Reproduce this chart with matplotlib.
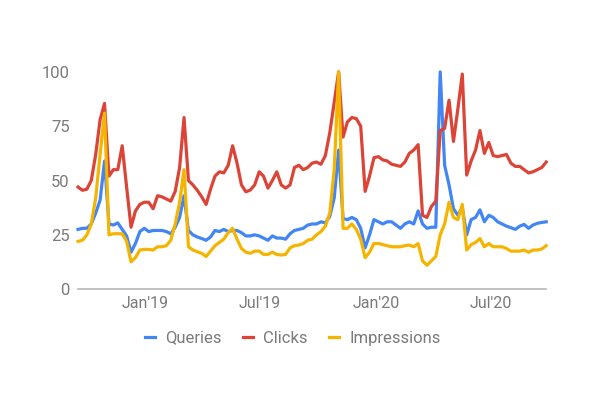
import matplotlib
matplotlib.use("Agg")
import matplotlib.pyplot as plt
import matplotlib.dates as mdates
import pandas as pd

# weekly values (indexed 0-100)
weeks = pd.date_range("2018-09-16", periods=107, freq="7D")

queries = [27.5, 28, 28, 30, 35, 41, 59, 30, 29.5, 30.5,
           27.5, 24.5, 17, 21, 26.5, 28, 26.5, 27, 27, 27,
           26.5, 25.5, 28.5, 33, 43, 27, 25, 24, 23.3, 22.5,
           24, 27, 26.5, 27.5, 26.5, 27, 27, 26, 24.5, 24.5,
           25, 24.5, 23.5, 22.5, 24.5, 23.5, 23.5, 23, 25.5, 27,
           27.5, 28, 29.5, 30, 30, 31, 30.5, 33.5, 42, 64,
           32.5, 32, 33, 32, 28, 19, 25, 32, 31, 30,
           31, 31, 29.5, 28, 30, 31, 30, 36, 30, 28,
           28.5, 28.5, 100, 57, 48, 37, 34, 37.5, 25, 32,
           33, 36.5, 31, 34, 33, 31, 30, 29, 28.3, 27.5,
           29, 29.8, 28, 29.5, 30.3, 30.7, 31]

clicks = [47, 45.5, 46, 50, 62, 78, 85.5, 52, 55, 55,
          66, 47, 28.5, 36, 39, 40, 40, 37, 43, 42.5,
          41.5, 40.5, 45, 56, 79, 50, 48, 45.5, 42.5, 39,
          46, 52, 54, 53.5, 57, 66, 58, 48, 44.8, 45.6,
          48, 54, 52, 46.5, 50, 54, 48, 46.5, 48, 56,
          57, 55, 56, 58, 58.5, 57.5, 61.5, 72, 86, 100,
          70, 77, 79, 78.5, 75, 45, 52, 60.5, 61, 59.5,
          59, 57.5, 57, 56.5, 58.5, 62.5, 64, 66.5, 34, 33,
          38, 40.5, 73, 74, 87, 68, 83, 99, 52.5, 59,
          64, 73, 62.5, 67.5, 61.5, 61, 61.5, 62, 58, 56.5,
          56.5, 55, 53.5, 54, 55, 56, 58.5]

impressions = [22, 22.5, 25, 30, 42, 62, 81, 25, 25.5, 25.5,
               25.5, 22, 12.6, 14.5, 18, 18.3, 18.3, 18, 19.5, 19.5,
               20, 22.5, 30, 40, 55, 19.5, 18, 17.2, 16.5, 15,
               17.5, 20, 21.5, 23, 26, 28, 23, 18.7, 17, 16.5,
               17.5, 17.5, 16, 16, 17, 16, 15.7, 16, 19, 20,
               20.3, 21, 22.5, 23, 25, 26.5, 29, 35, 55, 100,
               28, 28, 30, 27.5, 23, 14.5, 17, 21, 21, 20.5,
               20, 19.5, 19.5, 19.5, 20, 20.3, 19.5, 21, 13, 11,
               13, 15, 25, 30, 40, 33, 32, 39, 18, 20.5,
               21.5, 23.3, 19.5, 21, 19.5, 19.5, 19.5, 18.7, 17.5, 17.5,
               17.5, 18, 17, 18, 18, 18.5, 20]

labels = ["Queries", "Clicks", "Impressions"]
colors = ["#4285F4", "#DB4437", "#F4B400"]

plt.rcParams["font.family"] = ["Roboto", "DejaVu Sans"]

fig = plt.figure(figsize=(6.12, 3.95), dpi=100)
ax = fig.add_axes([0.1275, 0.268, 0.765, 0.55])

for vals, lab, col in zip([queries, clicks, impressions], labels, colors):
    ax.plot(weeks, vals, color=col, lw=2.3, label=lab,
            solid_joinstyle="round", clip_on=False)

ax.set_xlim(weeks[0], weeks[-1])
ax.set_ylim(0, 100)
ax.set_yticks([0, 25, 50, 75, 100])

ax.xaxis.set_major_locator(mdates.MonthLocator(bymonth=[1, 7]))
ax.xaxis.set_major_formatter(mdates.DateFormatter("%b'%y"))

for s in ["top", "right", "left"]:
    ax.spines[s].set_visible(False)
ax.spines["bottom"].set_color("#bdbdbd")
ax.spines["bottom"].set_linewidth(1.3)

ax.tick_params(axis="both", length=0, colors="#7a7a7a")
ax.tick_params(axis="y", pad=6, labelsize=12)
ax.tick_params(axis="x", pad=5, labelsize=11.5)

fig.legend(loc="center", bbox_to_anchor=(0.478, 0.144), ncol=3, frameon=False,
           fontsize=12, handlelength=0.6, handletextpad=0.6, columnspacing=1.3,
           labelcolor="#7a7a7a")

fig.savefig("out.png", dpi=100)
